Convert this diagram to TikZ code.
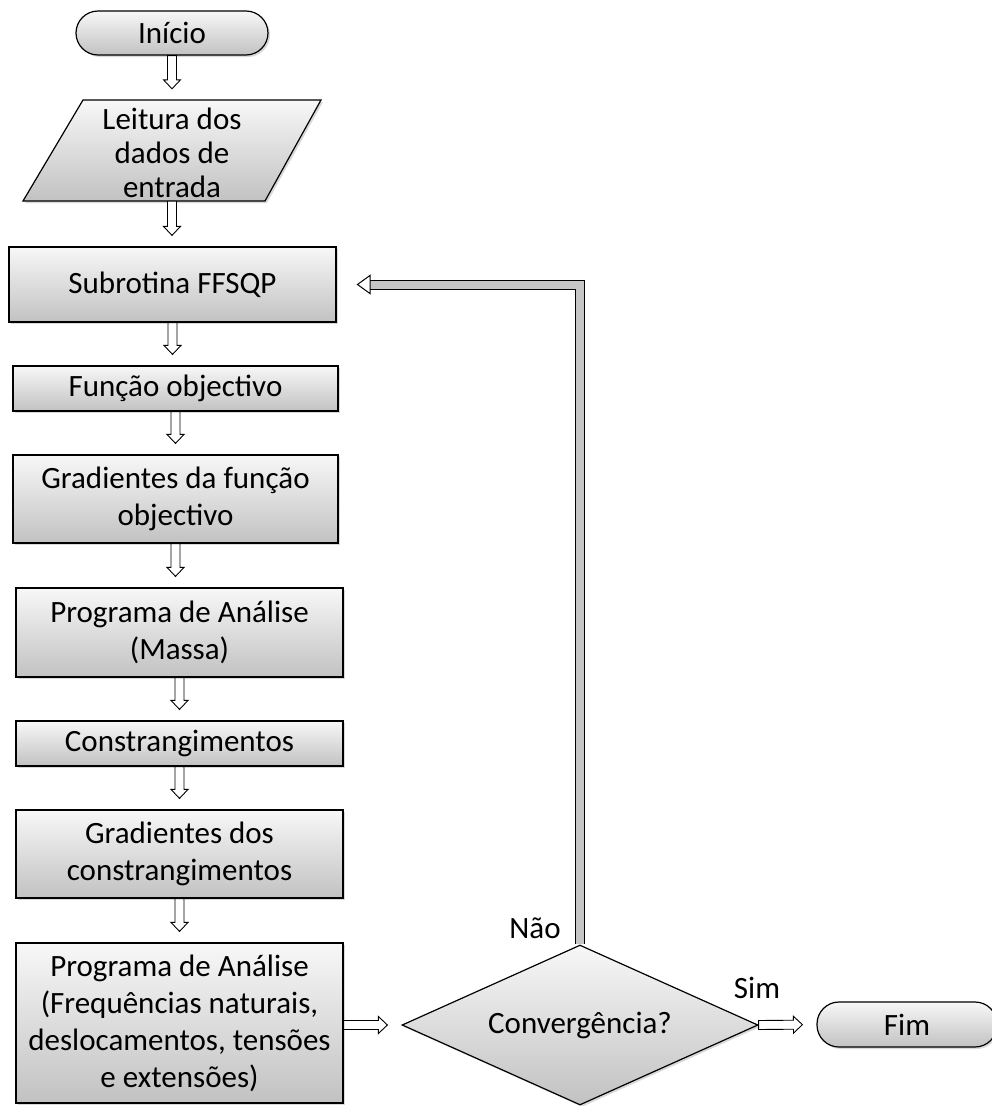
\documentclass[tikz,border=0pt]{standalone}
\usepackage{fontspec}
\setmainfont{Carlito}
\usetikzlibrary{shapes.geometric,arrows.meta,shadows,calc}
\begin{document}
\begin{tikzpicture}[x=1pt,y=-1pt,
  font=\fontsize{31}{37}\selectfont,
  box/.style={draw=black, line width=1.2pt, top color=gray!6, bottom color=gray!48,
    drop shadow={shadow xshift=2pt,shadow yshift=-2pt,opacity=0.3},
    align=center, inner sep=0pt},
  term/.style={box, rounded corners=22pt},
  plain/.style={align=center, inner sep=0pt},
  blk/.style={draw=black, line width=0.9pt, fill=white, line join=miter,
    to path={let \p1=(\tikztostart), \p2=($(\tikztotarget)!#1!(\tikztostart)$),
      \p3=($(\p2)!9pt!(\p1)$) in
      ($(\p1)!4.5pt!90:(\p2)$) -- ($(\p3)!4.5pt!90:(\p2)$) -- ($(\p3)!8.5pt!90:(\p2)$)
      -- (\p2) -- ($(\p3)!8.5pt!-90:(\p2)$) -- ($(\p3)!4.5pt!-90:(\p2)$)
      -- ($(\p1)!4.5pt!-90:(\p2)$) -- cycle}},
  blk/.default=11pt,
  fb/.style={draw=black, line width=1pt, double=gray!45, double distance=8pt,
    -{Triangle[length=14pt,width=20pt,line width=1pt,fill=white]}, shorten >=20pt},
]
\useasboundingbox (0,0) rectangle (991,1106);

\node[term, minimum width=192pt, minimum height=44pt] (inicio) at (172,33) {Início};

\path[box] (83,100) -- (321,100) -- (265,201) -- (23,201) -- cycle;
\node[plain, minimum width=238pt, minimum height=101pt] (leitura) at (172,150.5) {};
\node[plain, font=\fontsize{31}{34}\selectfont] (leituratxt) at (172,153) {Leitura dos\\dados de\\entrada};

\node[box, minimum width=327pt, minimum height=75pt] (subrotina) at (172.5,284.5) {Subrotina FFSQP};
\node[box, minimum width=325pt, minimum height=45pt] (funcao) at (175.5,388.5) {Função objectivo};
\node[box, minimum width=325pt, minimum height=88pt] (gradf) at (175.5,499) {Gradientes da função\\objectivo};
\node[box, minimum width=327pt, minimum height=89pt] (massa) at (179.5,632.5) {Programa de Análise\\(Massa)};
\node[box, minimum width=327pt, minimum height=45pt] (constr) at (179.5,743.5) {Constrangimentos};
\node[box, minimum width=327pt, minimum height=88pt] (gradc) at (179.5,854) {Gradientes dos\\constrangimentos};
\node[box, minimum width=327pt, minimum height=160pt] (freq) at (179.5,1023) {Programa de Análise\\(Frequências naturais,\\deslocamentos, tensões\\e extensões)};

\node[box, diamond, shape aspect=2.2, minimum width=356pt, minimum height=160pt] (conv) at (580,1025) {Convergência?};
\node[term, minimum width=180pt, minimum height=45pt] (fim) at (907,1024.5) {Fim};

\node[plain] (nao) at (535,928) {Não};
\node[plain] (sim) at (757,988) {Sim};

\path[blk] (inicio.south) to (inicio.south |- leitura.north);
\path[blk] (leitura.south) to (leitura.south |- subrotina.north);
\path[blk] (subrotina.south) to (subrotina.south |- funcao.north);
\path[blk] (funcao.south) to (funcao.south |- gradf.north);
\path[blk] (gradf.south) to (gradf.south |- massa.north);
\path[blk] (massa.south) to (massa.south |- constr.north);
\path[blk] (constr.south) to (constr.south |- gradc.north);
\path[blk] (gradc.south) to (gradc.south |- freq.north);
\path[blk=14pt] (freq.east |- conv.west) to (conv.west);
\path[blk=14pt] (conv.east) to (fim.west);
\draw[fb] (conv.north) -- (conv.north |- subrotina.east) -- (subrotina.east);
\end{tikzpicture}
\end{document}
